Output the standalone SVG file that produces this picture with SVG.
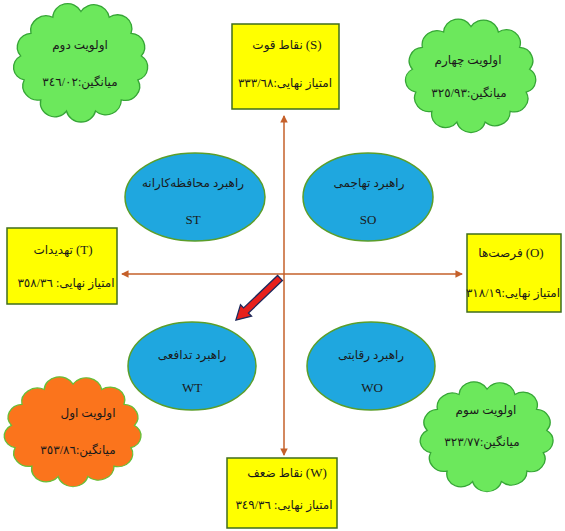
<svg xmlns="http://www.w3.org/2000/svg" xmlns:xlink="http://www.w3.org/1999/xlink" width="565" height="531" viewBox="0 0 565 531">
<style>
text{font-family:"Liberation Serif","DejaVu Sans",serif;font-size:12px;fill:#1a1a1a;text-anchor:middle}
.lat{font-size:13px}
.box{fill:#ffff00;stroke:#3f6e1c;stroke-width:1.5}
.ell{fill:#1fa7df;stroke:#5b9e2a;stroke-width:1.5}
.cg{fill:#6ce85c;stroke:#36a636;stroke-width:1.3}
.co{fill:#fb741c;stroke:#66c038;stroke-width:1.3}
.axis{stroke:#c5602a;stroke-width:1.5;fill:none}
</style>
<defs>
<marker id="ah" viewBox="0 0 8 8" refX="7" refY="4" markerWidth="5" markerHeight="5" orient="auto-start-reverse" markerUnits="strokeWidth">
<path d="M0,0 L8,4 L0,8 z" fill="#c5602a"/>
</marker>
<path id="cloud" d="M0,-51 A15,15 0 0 1 27.4,-45.2 A14,14 0 0 1 48.6,-29 A14,14 0 0 1 58.6,-6.1 A13.5,13.5 0 0 1 55.2,18.1 A14,14 0 0 1 39.1,38.2 A15,15 0 0 1 14.1,49.5 A14.5,14.5 0 0 1 -14.1,49.5 A14,14 0 0 1 -39.1,38.2 A14.5,14.5 0 0 1 -55.2,18.1 A13,13 0 0 1 -58.6,-6.1 A14,14 0 0 1 -48.6,-29 A15,15 0 0 1 -27.4,-45.2 A14.5,14.5 0 0 1 0,-51 Z"/>
</defs>
<rect width="565" height="531" fill="#ffffff"/>

<g id="connectors">
<line class="axis" x1="284" y1="455" x2="284" y2="116" marker-end="url(#ah)" marker-start="url(#ah)"/>
<line class="axis" x1="122" y1="274" x2="462" y2="274" marker-end="url(#ah)" marker-start="url(#ah)"/>
<polygon transform="translate(280,278) rotate(136.3)" points="0,-3.5 47,-3.5 47,-8 61,0 47,8 47,3.5 0,3.5" fill="#e8201c" stroke="#1e2a5c" stroke-width="1.3"/>
</g>

<g id="cloud-second">
<use xlink:href="#cloud" class="cg" transform="translate(81,62) scale(1.03,0.99)"/>
<text x="80" y="49">اولویت دوم</text>
<text x="80" y="86">میانگین:٣٤٦/٠٢</text>
</g>

<g id="cloud-fourth">
<use xlink:href="#cloud" class="cg" transform="translate(471,75) scale(1,0.95)"/>
<text x="468" y="64">اولویت چهارم</text>
<text x="469" y="97">میانگین:٣٢٥/٩٣</text>
</g>

<g id="cloud-first">
<use xlink:href="#cloud" class="co" transform="translate(73,431) scale(1.05,0.92)"/>
<text x="88" y="417">اولویت اول</text>
<text x="78" y="454">میانگین:٣٥٣/٨٦</text>
</g>

<g id="cloud-third">
<use xlink:href="#cloud" class="cg" transform="translate(487,436) scale(1.02,0.92)"/>
<text x="486" y="414">اولویت سوم</text>
<text x="482" y="446">میانگین:٣٢٣/٧٧</text>
</g>

<g id="box-S">
<rect class="box" x="232" y="24" width="107" height="85"/>
<text x="287" y="49">نقاط قوت <tspan class="lat">(S)</tspan></text>
<text x="285" y="87">امتیاز نهایی:٣٣٣/٦٨</text>
</g>

<g id="box-T">
<rect class="box" x="7" y="228" width="110" height="76"/>
<text x="63" y="254">تهدیدات <tspan class="lat">(T)</tspan></text>
<text x="66" y="287">امتیاز نهایی: ٣٥٨/٣٦</text>
</g>

<g id="box-O">
<rect class="box" x="467" y="234" width="94" height="78"/>
<text x="511" y="257">فرصت‌ها <tspan class="lat">(O)</tspan></text>
<text x="513" y="297">امتیاز نهایی:٣١٨/١٩</text>
</g>

<g id="box-W">
<rect class="box" x="227" y="458" width="110" height="70"/>
<text x="287" y="477">نقاط ضعف <tspan class="lat">(W)</tspan></text>
<text x="284" y="509">امتیاز نهایی: ٣٤٩/٣٦</text>
</g>

<g id="ST">
<ellipse class="ell" cx="195" cy="197" rx="70" ry="44"/>
<text x="193" y="187">راهبرد محافظه‌کارانه</text>
<text class="lat" x="193" y="224">ST</text>
</g>

<g id="SO">
<ellipse class="ell" cx="368" cy="197" rx="65" ry="44"/>
<text x="369" y="187">راهبرد تهاجمی</text>
<text class="lat" x="368" y="224">SO</text>
</g>

<g id="WT">
<ellipse class="ell" cx="192" cy="366" rx="64" ry="44"/>
<text x="192" y="359">راهبرد تدافعی</text>
<text class="lat" x="192" y="392">WT</text>
</g>

<g id="WO">
<ellipse class="ell" cx="371" cy="366" rx="64" ry="44"/>
<text x="371" y="359">راهبرد رقابتی</text>
<text class="lat" x="372" y="392">WO</text>
</g>
</svg>
